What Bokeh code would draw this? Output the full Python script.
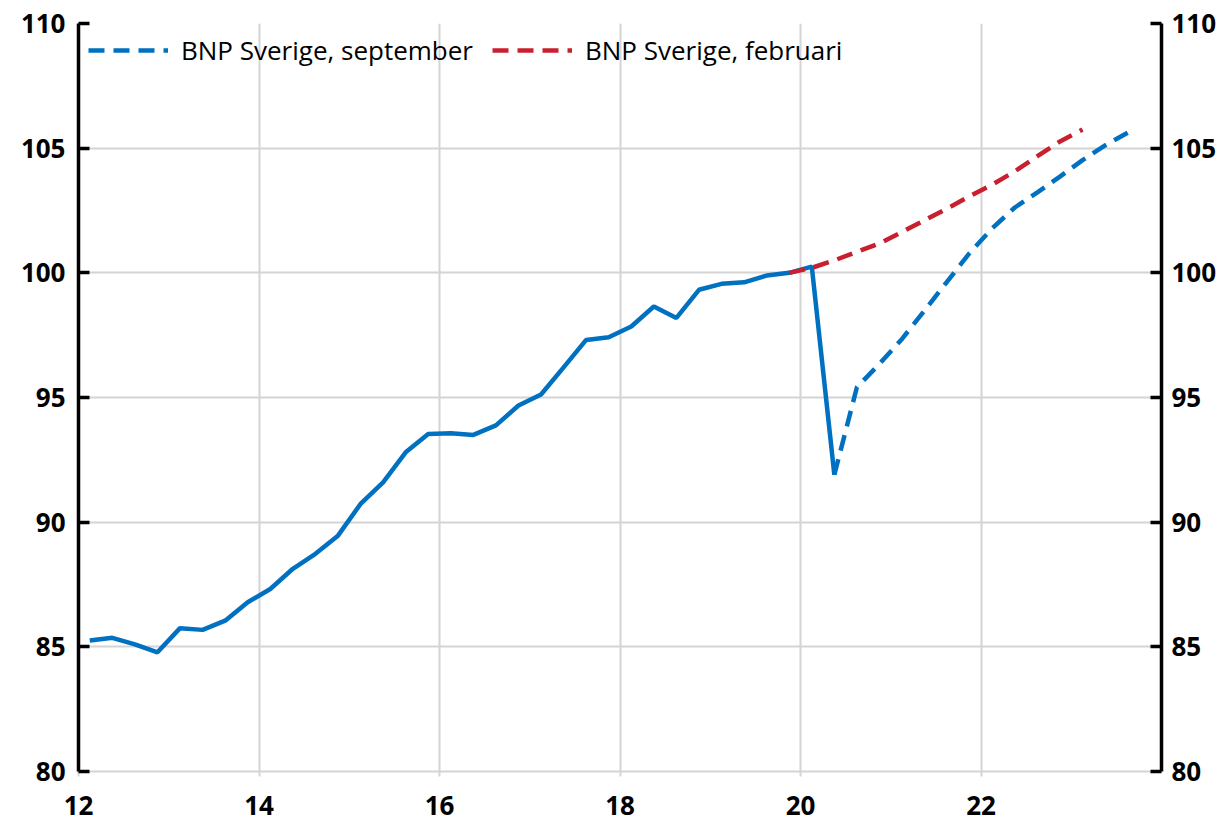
from bokeh.plotting import figure
from bokeh.models import (Range1d, LinearAxis, FixedTicker, Legend, LegendItem)
from bokeh.embed import file_html
from bokeh.resources import INLINE

# ---- data -------------------------------------------------------------
# quarterly index (2019Q4 = 100), quarters placed at mid-quarter of the year axis (12 = 2012)
actual_start = (2012, 1)
actual_values = [85.25, 85.36, 85.10, 84.78,
                 85.75, 85.68, 86.05, 86.79,
                 87.32, 88.13, 88.73, 89.46,
                 90.73, 91.60, 92.80, 93.54,
                 93.57, 93.50, 93.88, 94.68,
                 95.12, 96.21, 97.31, 97.42,
                 97.85, 98.65, 98.19, 99.32,
                 99.56, 99.62, 99.89, 100.00,
                 100.25, 91.90]

sept_start = (2020, 2)
sept_values = [91.90, 95.41, 96.35,
               97.35, 98.49, 99.65, 100.80,
               101.79, 102.62, 103.23, 103.86,
               104.52, 105.11, 105.62]

feb_start = (2019, 4)
feb_values = [100.00,
              100.20, 100.50, 100.84, 101.18,
              101.64, 102.11, 102.58, 103.07,
              103.54, 104.07, 104.68, 105.27,
              105.75]

x_ticks = [12, 14, 16, 18, 20, 22]
y_ticks = [80, 85, 90, 95, 100, 105, 110]
label_sept = "BNP Sverige, september"
label_feb = "BNP Sverige, februari"


def quarter_x(start, n):
    y, q = start
    out = []
    for i in range(n):
        qq = q - 1 + i
        out.append((y - 2000) + qq // 4 + ((qq % 4) + 0.5) / 4)
    return out


BLUE = "#0070C0"
RED = "#C8202F"
GRID = "#D4D4D4"
FONT = "Open Sans"

p = figure(output_backend="svg", toolbar_location=None,
           frame_width=1083, frame_height=748,
           min_border_left=78, min_border_right=57,
           min_border_top=23, min_border_bottom=52,
           x_range=Range1d(12, 24), y_range=Range1d(80, 110),
           y_axis_location=None)
p.outline_line_color = None
p.background_fill_color = "white"
p.border_fill_color = "white"

# grids
p.xgrid.ticker = FixedTicker(ticks=x_ticks)
p.ygrid.ticker = FixedTicker(ticks=y_ticks)
for g in (p.xgrid, p.ygrid):
    g.grid_line_color = GRID
    g.grid_line_width = 2

# bottom axis
xa = p.xaxis[0]
xa.ticker = FixedTicker(ticks=x_ticks)
xa.axis_line_color = GRID
xa.axis_line_width = 2
xa.major_tick_line_color = GRID
xa.major_tick_line_width = 2
xa.major_tick_out = 5
xa.major_tick_in = 0
xa.minor_tick_line_color = None
xa.major_label_standoff = 19
xa.major_label_text_font = FONT
xa.major_label_text_font_style = "bold"
xa.major_label_text_font_size = "26px"
xa.major_label_text_color = "black"

# left & right axes
for side, standoff in (("left", 13), ("right", 10)):
    ax = LinearAxis(ticker=FixedTicker(ticks=y_ticks))
    ax.axis_line_color = "black"
    ax.axis_line_width = 3.5
    ax.major_tick_line_color = "black"
    ax.major_tick_line_width = 3.5
    ax.major_tick_in = 11
    ax.major_tick_out = 0
    ax.minor_tick_line_color = None
    ax.major_label_standoff = standoff
    ax.major_label_text_font = FONT
    ax.major_label_text_font_style = "bold"
    ax.major_label_text_font_size = "26px"
    ax.major_label_text_color = "black"
    p.add_layout(ax, side)

# lines
r_act = p.line(quarter_x(actual_start, len(actual_values)), actual_values,
               line_color=BLUE, line_width=4.5)
r_sep = p.line(quarter_x(sept_start, len(sept_values)), sept_values,
               line_color=BLUE, line_width=4.5, line_dash="16 9")
r_feb = p.line(quarter_x(feb_start, len(feb_values)), feb_values,
               line_color=RED, line_width=4.5, line_dash="16 9")

legend = Legend(items=[LegendItem(label=label_sept, renderers=[r_sep]),
                       LegendItem(label=label_feb, renderers=[r_feb])],
                location=(10, 703), orientation="horizontal",
                glyph_width=80, glyph_height=16, label_standoff=13,
                spacing=19, margin=0, padding=4,
                label_text_font=FONT, label_text_font_size="26px",
                label_text_color="black",
                background_fill_alpha=0, border_line_color=None)
p.add_layout(legend)

open("out.html", "w").write(file_html(p, INLINE))
